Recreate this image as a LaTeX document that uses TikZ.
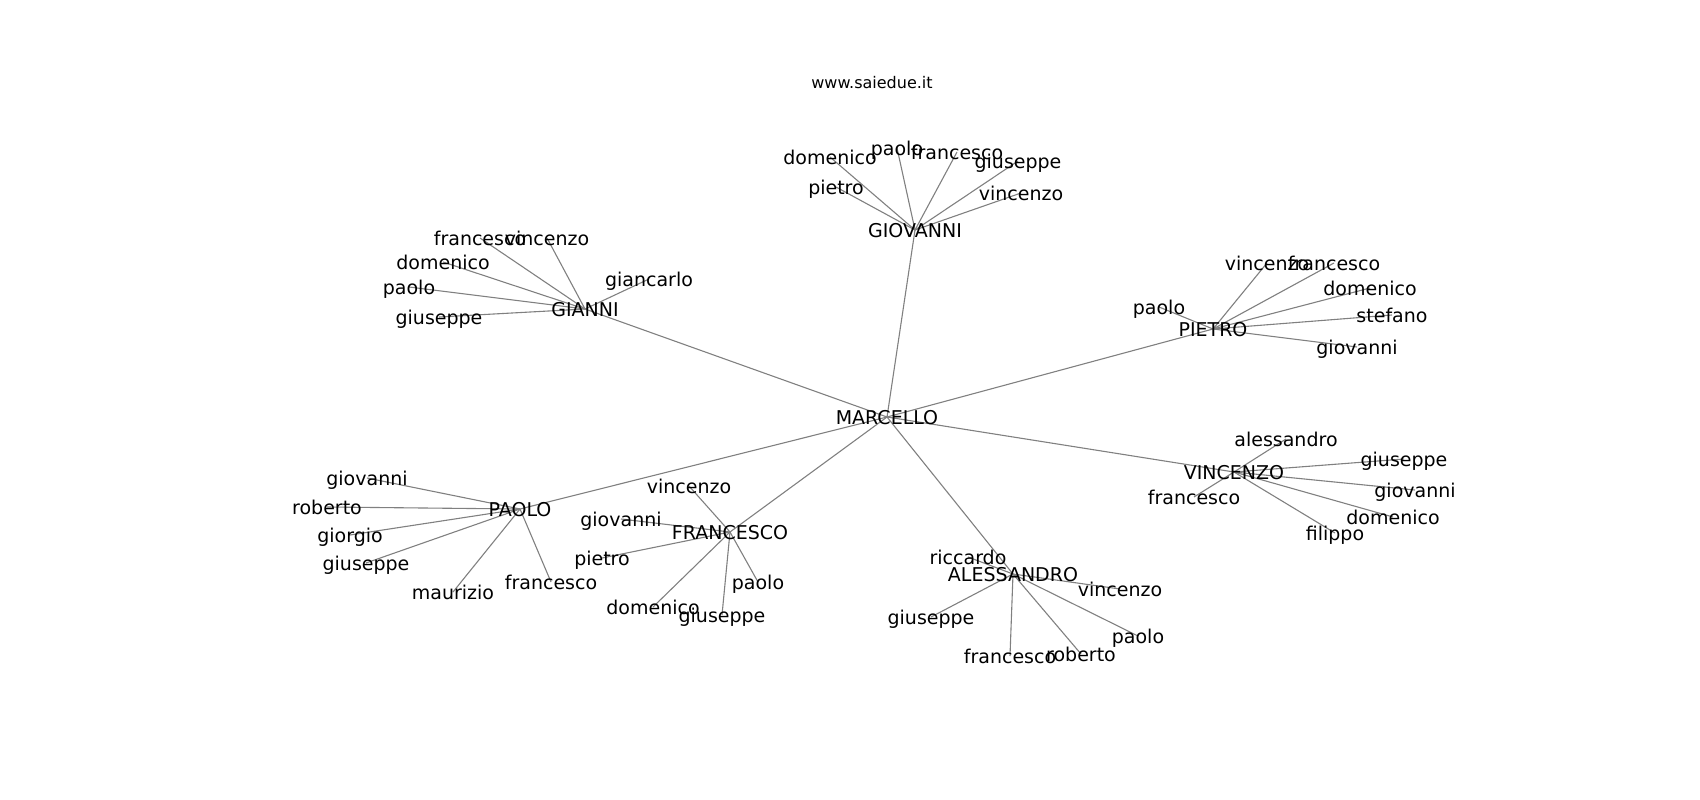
\documentclass[tikz,border=0pt]{standalone}
\usepackage{fontspec}
\setmainfont{DejaVu Sans}
\usetikzlibrary{backgrounds}
\tikzset{
  lbl/.style={font=\fontsize{19}{22}\selectfont, inner sep=0pt, text height=17.4pt, text depth=1.6pt},
  ttl/.style={font=\fontsize{16}{19}\selectfont, inner sep=0pt, text height=14.1pt, text depth=1.7pt},
  ed/.style={draw=gray, line width=1.1pt}
}
\begin{document}
\begin{tikzpicture}[x=1pt,y=-1pt]
\useasboundingbox (0,0) rectangle (1700,800);
\node[ttl] (title) at (872,82) {www.saiedue.it};
% hubs
\node[lbl] (m) at (887,417) {MARCELLO};
\node[lbl] (gio) at (915,230) {GIOVANNI};
\node[lbl] (gia) at (585,309) {GIANNI};
\node[lbl] (pie) at (1213,329) {PIETRO};
\node[lbl] (vin) at (1234,472) {VINCENZO};
\node[lbl] (pao) at (520,509) {PAOLO};
\node[lbl] (fra) at (730,532) {FRANCESCO};
\node[lbl] (ale) at (1013,574) {ALESSANDRO};
% GIOVANNI leaves
\node[lbl] (gio1) at (830,157) {domenico};
\node[lbl] (gio2) at (897,148) {paolo};
\node[lbl] (gio3) at (957,152) {francesco};
\node[lbl] (gio4) at (1018,161) {giuseppe};
\node[lbl] (gio5) at (836,187) {pietro};
\node[lbl] (gio6) at (1021,193) {vincenzo};
% GIANNI leaves
\node[lbl] (gia1) at (480,238) {francesco};
\node[lbl] (gia2) at (547,238) {vincenzo};
\node[lbl] (gia3) at (443,262) {domenico};
\node[lbl] (gia4) at (409,287) {paolo};
\node[lbl] (gia5) at (439,317) {giuseppe};
\node[lbl] (gia6) at (649,279) {giancarlo};
% PIETRO leaves
\node[lbl] (pie1) at (1267,263) {vincenzo};
\node[lbl] (pie2) at (1334,263) {francesco};
\node[lbl] (pie3) at (1370,288) {domenico};
\node[lbl] (pie4) at (1392,315) {stefano};
\node[lbl] (pie5) at (1159,307) {paolo};
\node[lbl] (pie6) at (1357,347) {giovanni};
% VINCENZO leaves
\node[lbl] (vin1) at (1286,439) {alessandro};
\node[lbl] (vin2) at (1404,459) {giuseppe};
\node[lbl] (vin3) at (1415,490) {giovanni};
\node[lbl] (vin4) at (1393,517) {domenico};
\node[lbl] (vin5) at (1194,497) {francesco};
\node[lbl] (vin6) at (1335,533) {filippo};
% PAOLO leaves
\node[lbl] (pao1) at (367,478) {giovanni};
\node[lbl] (pao2) at (327,507) {roberto};
\node[lbl] (pao3) at (350,535) {giorgio};
\node[lbl] (pao4) at (366,563) {giuseppe};
\node[lbl] (pao5) at (453,592) {maurizio};
\node[lbl] (pao6) at (551,582) {francesco};
% FRANCESCO leaves
\node[lbl] (fra1) at (689,486) {vincenzo};
\node[lbl] (fra2) at (621,519) {giovanni};
\node[lbl] (fra3) at (602,558) {pietro};
\node[lbl] (fra4) at (758,582) {paolo};
\node[lbl] (fra5) at (653,607) {domenico};
\node[lbl] (fra6) at (722,615) {giuseppe};
% ALESSANDRO leaves
\node[lbl] (ale1) at (968,557) {riccardo};
\node[lbl] (ale2) at (1120,589) {vincenzo};
\node[lbl] (ale3) at (931,617) {giuseppe};
\node[lbl] (ale4) at (1010,656) {francesco};
\node[lbl] (ale5) at (1081,654) {roberto};
\node[lbl] (ale6) at (1138,636) {paolo};
\begin{scope}[on background layer]
\foreach \h in {gio,gia,pie,vin,pao,fra,ale}{
  \draw[ed] (m.center) -- (\h.center);
  \foreach \i in {1,...,6}{
    \draw[ed] (\h.center) -- (\h\i.center);
  }
}
\end{scope}
\end{tikzpicture}
\end{document}
